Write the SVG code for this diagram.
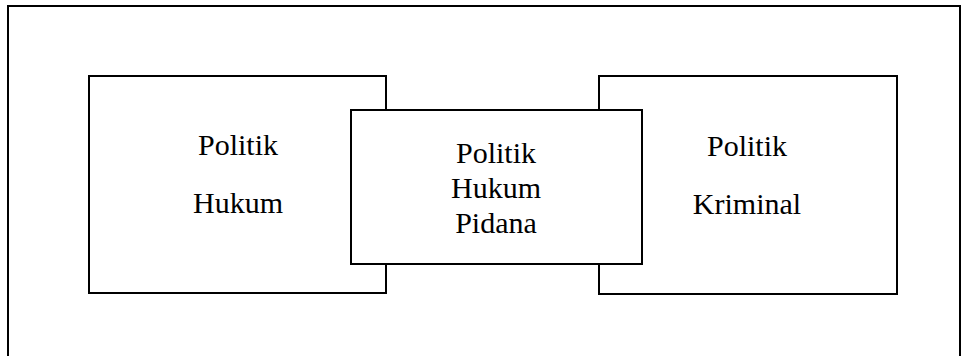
<svg xmlns="http://www.w3.org/2000/svg" width="961" height="356" viewBox="0 0 961 356">
<style>
.box{fill:#fff;stroke:#000;stroke-width:2}
.t{font-family:"Liberation Serif","Times New Roman",serif;font-size:30px;fill:#000;text-anchor:middle}
</style>
<rect width="961" height="356" fill="#fff"/>
<g id="frame"><rect class="box" x="8" y="6" width="952" height="380"/></g>
<g id="politik-hukum">
<rect class="box" x="89" y="76" width="297" height="217"/>
<text class="t" x="238" y="155">Politik</text>
<text class="t" x="238" y="213">Hukum</text>
</g>
<g id="politik-kriminal">
<rect class="box" x="599" y="76" width="298" height="218"/>
<text class="t" x="747" y="156">Politik</text>
<text class="t" x="747" y="214">Kriminal</text>
</g>
<g id="politik-hukum-pidana">
<rect class="box" x="351" y="110" width="291" height="154"/>
<text class="t" x="496" y="163">Politik</text>
<text class="t" x="496" y="198">Hukum</text>
<text class="t" x="496" y="233">Pidana</text>
</g>
<g id="connectors"></g>
</svg>
